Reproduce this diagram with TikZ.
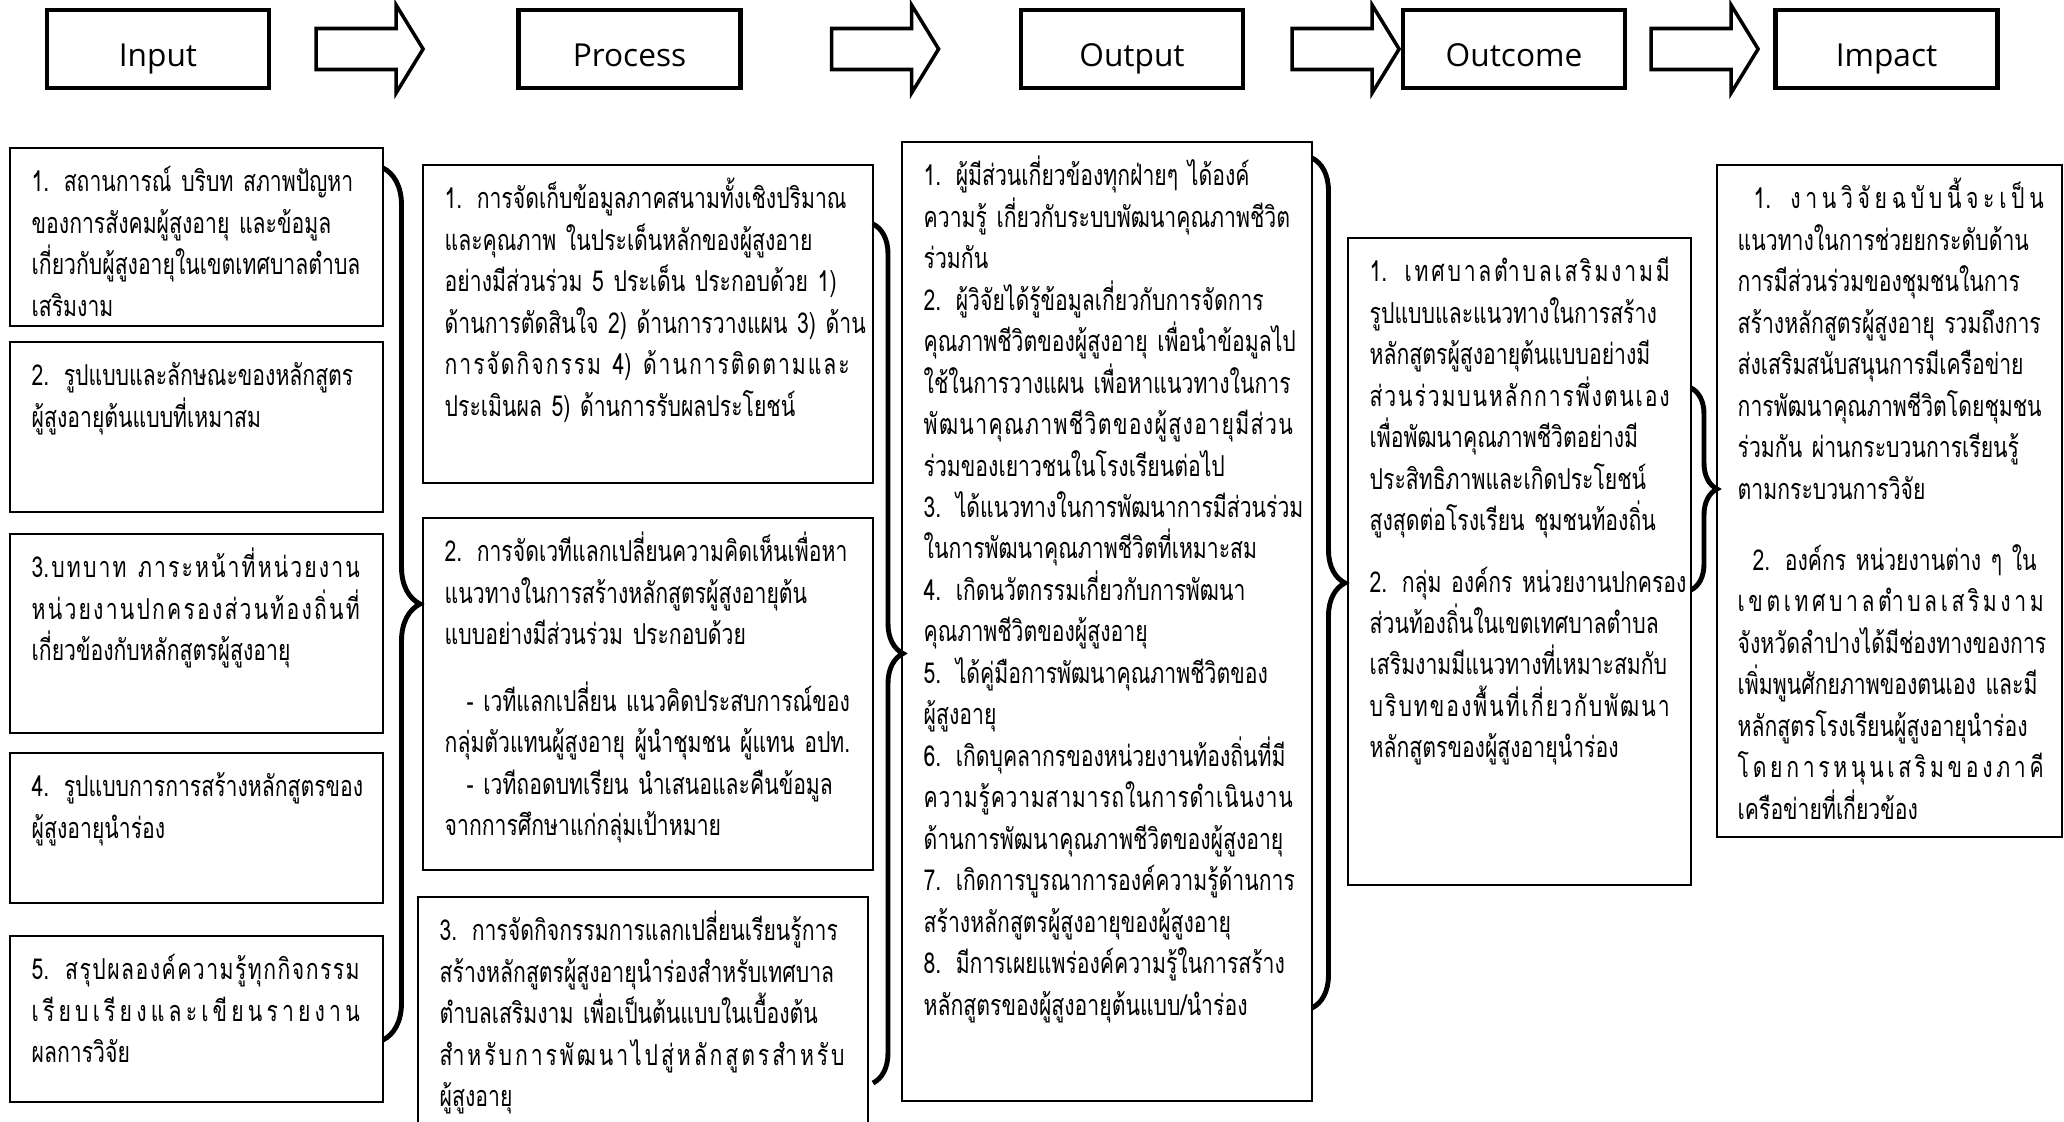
\documentclass[tikz,border=0pt]{standalone}
\usepackage{fontspec}
\usetikzlibrary{decorations.pathreplacing,positioning}
\newfontfamily\thaifont[Script=Thai, FakeStretch=0.735]{Loma}
\newfontfamily\headfont{Open Sans}
\newcommand\jl[1]{\makebox[\hsize][s]{#1}}
\newcommand\gp{\hfil}
\newcommand\firststrut{\rule{0pt}{9.4pt}}
\tikzset{
  headbox/.style={draw, line width=1.2pt, minimum width=22.2mm, minimum height=7.8mm,
                  inner sep=0pt, text height=9.7pt, text depth=0pt,
                  font=\headfont\fontsize{9}{11}\selectfont},
  itembox/.style={draw, line width=0.75pt, inner sep=0pt, outer sep=0pt, anchor=north},
  itemtext/.style={anchor=north west, inner sep=0pt, align=left,
                   font=\thaifont\fontsize{8.2}{11.8}\selectfont},
  bigbrace/.style={decorate, decoration={brace, amplitude=#1}, line width=1.4pt},
  blockarrow/.style={draw, line width=1pt, line join=miter}
}
\begin{document}
\lineskiplimit=-20pt
\begin{tikzpicture}[x=0.1mm, y=-0.1mm]
\useasboundingbox (0,0) rectangle (2064,1122);
\clip (0,0) rectangle (2064,1122);

% header row
\node[headbox] (hin)  at (158,49)    {Input};
\node[headbox] (hpro) at (629.5,49)  {Process};
\node[headbox] (hout) at (1132,49)   {Output};
\node[headbox] (hoc)  at (1514,49)   {Outcome};
\node[headbox] (him)  at (1886.5,49) {Impact};
\foreach \a/\d in {hin/4.5, hpro/8.9, hout/4.7, hoc/2.4}
  \draw[blockarrow] ([xshift=\d mm]\a.east) -- ++(0,-20.5) -- ++(80,0) -- ++(0,-23.5)
    -- ++(27,44) -- ++(-27,44) -- ++(0,-23.5) -- ++(-80,0) -- cycle;

% input column
\node[itembox, minimum width=37.3mm, minimum height=17.8mm] (in1) at (196.5,148) {};
\node[itembox, minimum width=37.3mm, minimum height=17mm, below=1.6mm of in1] (in2) {};
\node[itembox, minimum width=37.3mm, minimum height=19.9mm, below=2.2mm of in2] (in3) {};
\node[itembox, minimum width=37.3mm, minimum height=15mm, below=2mm of in3] (in4) {};
\node[itembox, minimum width=37.3mm, minimum height=16.6mm, below=3.3mm of in4] (in5) {};

\node[itemtext, text width=32.8mm] (tin1) at ([shift={(21,10)}]in1.north west)
{\firststrut\jl{1. สถานการณ์ บริบท สภาพปัญหา}\\
\jl{ของการสังคมผู้สูงอายุ และข้อมูล}\\
\jl{เกี่ยวกับผู้สูงอายุในเขตเทศบาลตำบล}\\
เสริมงาม};
\node[itemtext, text width=32.8mm] (tin2) at ([shift={(21,10)}]in2.north west)
{\firststrut\jl{2. รูปแบบและลักษณะของหลักสูตร}\\
ผู้สูงอายุต้นแบบที่เหมาสม};
\node[itemtext, text width=32.8mm] (tin3) at ([shift={(21,10)}]in3.north west)
{\firststrut\jl{3.\gp บ\gp ท\gp บ\gp า\gp ท \gp ภ\gp า\gp ร\gp ะ\gp ห\gp น้\gp า\gp ที่\gp ห\gp น่\gp ว\gp ย\gp ง\gp า\gp น}\\
\jl{ห\gp น่\gp ว\gp ย\gp ง\gp า\gp น\gp ป\gp ก\gp ค\gp ร\gp อ\gp ง\gp ส่\gp ว\gp น\gp ท้\gp อ\gp ง\gp ถิ่\gp น\gp ที่}\\
เกี่ยวข้องกับหลักสูตรผู้สูงอายุ};
\node[itemtext, text width=32.8mm] (tin4) at ([shift={(21,10)}]in4.north west)
{\firststrut\jl{4. รูปแบบการการสร้างหลักสูตรของ}\\
ผู้สูงอายุนำร่อง};
\node[itemtext, text width=32.8mm] (tin5) at ([shift={(21,10)}]in5.north west)
{\firststrut\jl{5. \gp ส\gp รุ\gp ป\gp ผ\gp ล\gp อ\gp ง\gp ค์\gp ค\gp ว\gp า\gp ม\gp รู้\gp ทุ\gp ก\gp กิ\gp จ\gp ก\gp ร\gp ร\gp ม}\\
\jl{เ\gp รี\gp ย\gp บ\gp เ\gp รี\gp ย\gp ง\gp แ\gp ล\gp ะ\gp เ\gp ขี\gp ย\gp น\gp ร\gp า\gp ย\gp ง\gp า\gp น}\\
ผลการวิจัย};

% process column
\node[itembox, minimum width=45mm, minimum height=31.8mm] (pr1) at (648,165) {};
\node[itembox, minimum width=45mm, minimum height=35.2mm, below=3.5mm of pr1] (pr2) {};
\node[itembox, minimum width=45mm, minimum height=25mm, below=2.7mm of pr2, xshift=-0.5mm] (pr3) {};

\node[itemtext, text width=40.5mm] (tpr1) at ([shift={(21,10)}]pr1.north west)
{\firststrut\jl{1. การจัดเก็บข้อมูลภาคสนามทั้งเชิงปริมาณ}\\
\jl{และคุณภาพ ในประเด็นหลักของผู้สูงอาย}\\
\jl{อย่างมีส่วนร่วม 5 ประเด็น ประกอบด้วย 1)}\\
\jl{ด้านการตัดสินใจ 2) ด้านการวางแผน 3) ด้าน}\\
\jl{ก\gp า\gp ร\gp จั\gp ด\gp กิ\gp จ\gp ก\gp ร\gp ร\gp ม \gp 4) \gp ด้\gp า\gp น\gp ก\gp า\gp ร\gp ติ\gp ด\gp ต\gp า\gp ม\gp แ\gp ล\gp ะ}\\
ประเมินผล 5) ด้านการรับผลประโยชน์};
\node[itemtext, text width=40.5mm] (tpr2) at ([shift={(21,10)}]pr2.north west)
{\firststrut\jl{2. การจัดเวทีแลกเปลี่ยนความคิดเห็นเพื่อหา}\\
\jl{แนวทางในการสร้างหลักสูตรผู้สูงอายุต้น}\\
แบบอย่างมีส่วนร่วม ประกอบด้วย\\[2.5mm]
\jl{\hspace*{2.2mm}- เวทีแลกเปลี่ยน แนวคิดประสบการณ์ของ}\\
\jl{กลุ่มตัวแทนผู้สูงอายุ ผู้นำชุมชน ผู้แทน อปท.}\\
\jl{\hspace*{2.2mm}- เวทีถอดบทเรียน นำเสนอและคืนข้อมูล}\\
จากการศึกษาแก่กลุ่มเป้าหมาย};
\node[itemtext, text width=40.5mm] (tpr3) at ([shift={(21,10)}]pr3.north west)
{\firststrut\jl{3. การจัดกิจกรรมการแลกเปลี่ยนเรียนรู้การ}\\
\jl{สร้างหลักสูตรผู้สูงอายุนำร่องสำหรับเทศบาล}\\
\jl{ตำบลเสริมงาม เพื่อเป็นต้นแบบในเบื้องต้น}\\
\jl{สำ\gp ห\gp รั\gp บ\gp ก\gp า\gp ร\gp พั\gp ฒ\gp น\gp า\gp ไ\gp ป\gp สู่\gp ห\gp ลั\gp ก\gp สู\gp ต\gp ร\gp สำ\gp ห\gp รั\gp บ}\\
ผู้สูงอายุ};

% output column
\node[itembox, minimum width=41mm, minimum height=95.9mm] (out) at (1107,142) {};
\node[itemtext, text width=36.9mm] (tout) at ([shift={(21,10)}]out.north west)
{\firststrut\jl{1. ผู้มีส่วนเกี่ยวข้องทุกฝ่ายๆ ได้องค์}\\
\jl{ความรู้ เกี่ยวกับระบบพัฒนาคุณภาพชีวิต}\\
ร่วมกัน\\
\jl{2. ผู้วิจัยได้รู้ข้อมูลเกี่ยวกับการจัดการ}\\
\jl{คุณภาพชีวิตของผู้สูงอายุ เพื่อนำข้อมูลไป}\\
\jl{ใช้ในการวางแผน เพื่อหาแนวทางในการ}\\
\jl{พั\gp ฒ\gp น\gp า\gp คุ\gp ณ\gp ภ\gp า\gp พ\gp ชี\gp วิ\gp ต\gp ข\gp อ\gp ง\gp ผู้\gp สู\gp ง\gp อ\gp า\gp ยุ\gp มี\gp ส่\gp ว\gp น}\\
ร่วมของเยาวชนในโรงเรียนต่อไป\\
\jl{3. ได้แนวทางในการพัฒนาการมีส่วนร่วม}\\
ในการพัฒนาคุณภาพชีวิตที่เหมาะสม\\
4. เกิดนวัตกรรมเกี่ยวกับการพัฒนา\\
คุณภาพชีวิตของผู้สูงอายุ\\
5. ได้คู่มือการพัฒนาคุณภาพชีวิตของ\\
ผู้สูงอายุ\\
\jl{6. เกิดบุคลากรของหน่วยงานท้องถิ่นที่มี}\\
\jl{ค\gp ว\gp า\gp ม\gp รู้\gp ค\gp ว\gp า\gp ม\gp ส\gp า\gp ม\gp า\gp ร\gp ถ\gp ใ\gp น\gp ก\gp า\gp ร\gp ดำ\gp เ\gp นิ\gp น\gp ง\gp า\gp น}\\
ด้านการพัฒนาคุณภาพชีวิตของผู้สูงอายุ\\
\jl{7. เกิดการบูรณาการองค์ความรู้ด้านการ}\\
สร้างหลักสูตรผู้สูงอายุของผู้สูงอายุ\\
8. มีการเผยแพร่องค์ความรู้ในการสร้าง\\
หลักสูตรของผู้สูงอายุต้นแบบ/นำร่อง};

% outcome column
\node[itembox, minimum width=34.3mm, minimum height=64.7mm] (oc) at (1519.5,238) {};
\node[itemtext, text width=30mm] (toc) at ([shift={(21,10)}]oc.north west)
{\firststrut\jl{1. \gp เ\gp ท\gp ศ\gp บ\gp า\gp ล\gp ตำ\gp บ\gp ล\gp เ\gp ส\gp ริ\gp ม\gp ง\gp า\gp ม\gp มี}\\
\jl{รูปแบบและแนวทางในการสร้าง}\\
\jl{หลักสูตรผู้สูงอายุต้นแบบอย่างมี}\\
\jl{ส่\gp ว\gp น\gp ร่\gp ว\gp ม\gp บ\gp น\gp ห\gp ลั\gp ก\gp ก\gp า\gp ร\gp พึ่\gp ง\gp ต\gp น\gp เ\gp อ\gp ง}\\
\jl{เพื่อพัฒนาคุณภาพชีวิตอย่างมี}\\
\jl{ประสิทธิภาพและเกิดประโยชน์}\\
สูงสุดต่อโรงเรียน ชุมชนท้องถิ่น\\[2mm]
\jl{2. กลุ่ม องค์กร หน่วยงานปกครอง}\\
\jl{ส่วนท้องถิ่นในเขตเทศบาลตำบล}\\
\jl{เสริมงามมีแนวทางที่เหมาะสมกับ}\\
\jl{บ\gp ริ\gp บ\gp ท\gp ข\gp อ\gp ง\gp พื้\gp น\gp ที่\gp เ\gp กี่\gp ย\gp ว\gp กั\gp บ\gp พั\gp ฒ\gp น\gp า}\\
หลักสูตรของผู้สูงอายุนำร่อง};

% impact column
\node[itembox, minimum width=34.5mm, minimum height=67.2mm] (im) at (1889.5,165) {};
\node[itemtext, text width=30.6mm] (tim) at ([shift={(20,10)}]im.north west)
{\firststrut\jl{\hspace*{1.6mm}1. \gp ง\gp า\gp น\gp วิ\gp จั\gp ย\gp ฉ\gp บั\gp บ\gp นี้\gp จ\gp ะ\gp เ\gp ป็\gp น}\\
\jl{แนวทางในการช่วยยกระดับด้าน}\\
\jl{การมีส่วนร่วมของชุมชนในการ}\\
\jl{สร้างหลักสูตรผู้สูงอายุ รวมถึงการ}\\
\jl{ส่งเสริมสนับสนุนการมีเครือข่าย}\\
\jl{การพัฒนาคุณภาพชีวิตโดยชุมชน}\\
\jl{ร่วมกัน ผ่านกระบวนการเรียนรู้}\\
ตามกระบวนการวิจัย\\[3mm]
\jl{\hspace*{1.5mm}2. องค์กร หน่วยงานต่าง ๆ ใน}\\
\jl{เ\gp ข\gp ต\gp เ\gp ท\gp ศ\gp บ\gp า\gp ล\gp ตำ\gp บ\gp ล\gp เ\gp ส\gp ริ\gp ม\gp ง\gp า\gp ม}\\
\jl{จังหวัดลำปางได้มีช่องทางของการ}\\
\jl{เพิ่มพูนศักยภาพของตนเอง และมี}\\
\jl{หลักสูตรโรงเรียนผู้สูงอายุนำร่อง}\\
\jl{โ\gp ด\gp ย\gp ก\gp า\gp ร\gp ห\gp นุ\gp น\gp เ\gp ส\gp ริ\gp ม\gp ข\gp อ\gp ง\gp ภ\gp า\gp คี}\\
เครือข่ายที่เกี่ยวข้อง};

% braces
\draw[bigbrace=3.7mm] ([yshift=-2mm]in1.north east) -- ([yshift=-89.2mm]in1.north east);
\draw[bigbrace=3mm] ([yshift=-5.9mm]pr1.north east) -- ([yshift=-91.8mm]pr1.north east);
\draw[bigbrace=3.3mm] ([yshift=-1.6mm]out.north east) -- ([yshift=9.3mm]out.south east);
\draw[bigbrace=2.6mm] ([yshift=-15mm]oc.north east) -- ([yshift=-35.2mm]oc.north east);

\end{tikzpicture}
\end{document}
